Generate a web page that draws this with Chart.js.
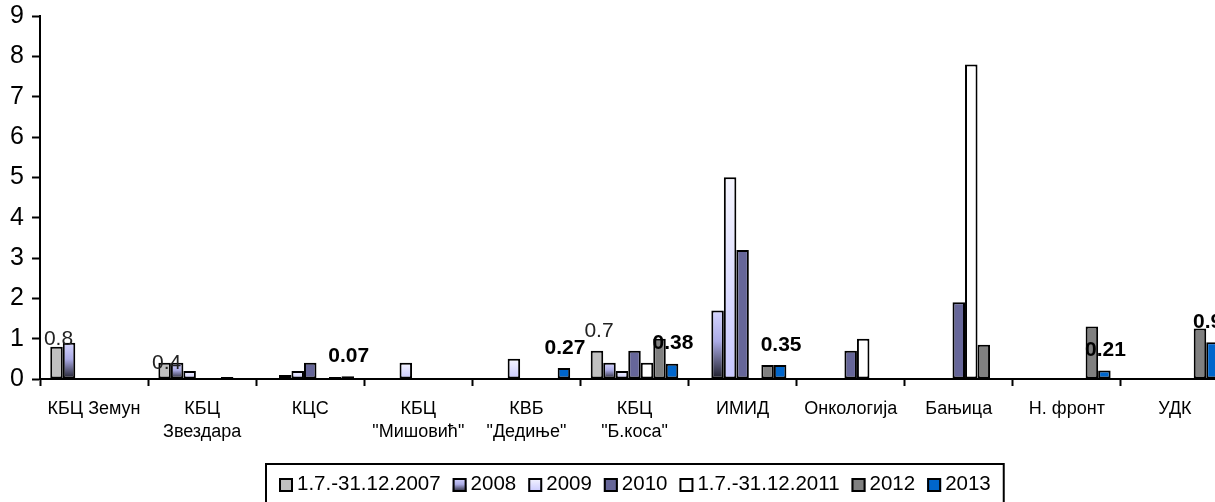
<!DOCTYPE html>
<html>
<head>
<meta charset="utf-8">
<script src="https://cdn.jsdelivr.net/npm/chart.js@4.4.1/dist/chart.umd.min.js"></script>
<style>
  html, body { margin: 0; padding: 0; background: #fff; overflow: hidden; }
  #wrap { width: 1215px; height: 502px; overflow: hidden; }
  canvas { display: block; }
</style>
</head>
<body>
<div id="wrap"><canvas id="chart" width="1240" height="502"></canvas></div>
<script>
// ---- podaci ----
const categories = [
  "КБЦ Земун", ["КБЦ", "Звездара"], "КЦС", ["КБЦ", "\"Мишовић\""], ["КВБ", "\"Дедиње\""],
  ["КБЦ", "\"Б.коса\""], "ИМИД", "Онкологија", "Бањица", "Н. фронт", "УДК"
];
const seriesNames = ["1.7.-31.12.2007", "2008", "2009", "2010", "1.7.-31.12.2011", "2012", "2013"];

const s2007 = [0.8, 0.4, null, null, null, 0.7, null, null, null, null, null];
const s2008 = [0.9, 0.4, 0.1, null, null, 0.4, 1.7, null, null, null, null];
const s2009 = [null, 0.2, 0.2, 0.4, 0.5, 0.2, 5.0, null, null, null, null];
const s2010 = [null, null, 0.4, null, null, 0.7, 3.2, 0.7, 1.9, null, null];
const s2011 = [null, null, null, null, null, 0.4, null, 1.0, 7.8, null, null];
const s2012 = [null, 0.05, 0.05, null, null, 1.0, 0.35, null, 0.85, 1.3, 1.25];
const s2013 = [null, null, 0.07, null, 0.27, 0.38, 0.35, null, null, 0.21, 0.91];

const yTicks = [0, 1, 2, 3, 4, 5, 6, 7, 8, 9];

// ---- izgled ----
const FONT = 'Arial, "Liberation Sans", sans-serif';
Chart.defaults.font.family = FONT;
Chart.defaults.color = "#000";

// boje serija: obicna boja ili gradijent (odozgo -> dole)
const fills = [
  "#c0c0c0",
  [[0, "#d6d6ff"], [0.45, "#ababe6"], [1, "#1c1c28"]],
  [[0, "#f6f6ff"], [1, "#c8c8ff"]],
  "#666699",
  "#ffffff",
  "#808080",
  "#0066cc"
];

function makeFill(ctx, spec, top, bottom) {
  if (typeof spec === "string") return spec;
  const g = ctx.createLinearGradient(0, top, 0, bottom);
  spec.forEach(s => g.addColorStop(s[0], s[1]));
  return g;
}

function barFill(spec) {
  if (typeof spec === "string") return spec;
  return function (c) {
    const chart = c.chart;
    if (!chart.chartArea || !c.parsed || c.parsed.y == null) return spec[spec.length - 1][1];
    const y = chart.scales.y;
    return makeFill(chart.ctx, spec, y.getPixelForValue(c.parsed.y), y.getPixelForValue(0));
  };
}

const allSeries = [s2007, s2008, s2009, s2010, s2011, s2012, s2013];

// natpisi vrednosti: serija 2007 obicnim slovima, serija 2013 masnim
const lift2007 = [8, 0, 0, 0, 0, 20, 0, 0, 0, 0, 0];
const liftBold = 20;

const valueLabels = {
  id: "valueLabels",
  afterDatasetsDraw(chart) {
    const ctx = chart.ctx;
    ctx.save();
    ctx.textAlign = "center";
    ctx.textBaseline = "middle";

    ctx.font = "21px " + FONT;
    ctx.fillStyle = "#222";
    chart.getDatasetMeta(0).data.forEach((el, i) => {
      if (s2007[i] == null) return;
      ctx.fillText(String(s2007[i]), el.x + 2, el.y - lift2007[i]);
    });

    ctx.font = "bold 21px " + FONT;
    ctx.fillStyle = "#000";
    chart.getDatasetMeta(6).data.forEach((el, i) => {
      if (s2013[i] == null) return;
      ctx.fillText(String(s2013[i]), el.x + 1, el.y - liftBold);
    });
    ctx.restore();
  }
};

// legenda u okviru, kao u Excelu
const boxLegend = {
  id: "boxLegend",
  afterDraw(chart) {
    const ctx = chart.ctx;
    const area = chart.chartArea;
    const top = 464, h = 40, mk = 14, gapText = 4, gapItem = 12, pad = 13;
    const midY = 484;
    ctx.save();
    ctx.font = "20.5px " + FONT;
    const widths = seriesNames.map(n => ctx.measureText(n).width);
    let total = pad * 2 + gapItem * (seriesNames.length - 1);
    widths.forEach(w => total += mk + gapText + w);
    const left = Math.round((area.left + area.right) / 2 - total / 2);

    ctx.fillStyle = "#fff";
    ctx.fillRect(left, top, total, h);
    ctx.strokeStyle = "#000";
    ctx.lineWidth = 2;
    ctx.strokeRect(left, top, total, h);

    let x = left + pad;
    ctx.textBaseline = "middle";
    ctx.textAlign = "left";
    seriesNames.forEach((name, i) => {
      const my = midY - mk / 2 + 1;
      ctx.fillStyle = makeFill(ctx, fills[i], my, my + mk);
      ctx.fillRect(x, my, mk, mk);
      ctx.lineWidth = 2;
      ctx.strokeStyle = "#000";
      ctx.strokeRect(x + 1, my + 1, mk - 2, mk - 2);
      x += mk + gapText;
      ctx.fillStyle = "#000";
      ctx.fillText(name, x, midY);
      x += widths[i] + gapItem;
    });
    ctx.restore();
  }
};

new Chart(document.getElementById("chart"), {
  type: "bar",
  data: {
    labels: categories,
    datasets: seriesNames.map((name, i) => ({
      label: name,
      data: allSeries[i],
      backgroundColor: barFill(fills[i]),
      borderColor: "#000",
      borderWidth: 2,
      borderSkipped: false,
      categoryPercentage: 0.81,
      barPercentage: 1
    }))
  },
  options: {
    responsive: false,
    devicePixelRatio: 1,
    animation: false,
    layout: { padding: { left: 0, right: 11, top: 16, bottom: 43 } },
    plugins: {
      legend: { display: false },
      tooltip: { enabled: false }
    },
    scales: {
      x: {
        grid: { drawOnChartArea: false, offset: true, tickLength: 7, tickColor: "#000", tickWidth: 2 },
        border: { color: "#000", width: 2 },
        ticks: { color: "#000", font: { size: 18, lineHeight: 1.25 }, padding: 12, maxRotation: 0, autoSkip: false },
        afterFit(s) { s.height = 80; s.paddingLeft = 0; s.paddingRight = 0; }
      },
      y: {
        min: yTicks[0],
        max: yTicks[yTicks.length - 1],
        afterBuildTicks(s) { s.ticks = yTicks.map(v => ({ value: v })); },
        grid: { drawOnChartArea: false, tickLength: 8, tickColor: "#000", tickWidth: 2 },
        border: { color: "#000", width: 2 },
        ticks: { color: "#000", font: { size: 25 }, padding: 8 },
        afterFit(s) { s.width = 40; s.paddingTop = 0; s.paddingBottom = 0; }
      }
    }
  },
  plugins: [valueLabels, boxLegend]
});
</script>
</body>
</html>
